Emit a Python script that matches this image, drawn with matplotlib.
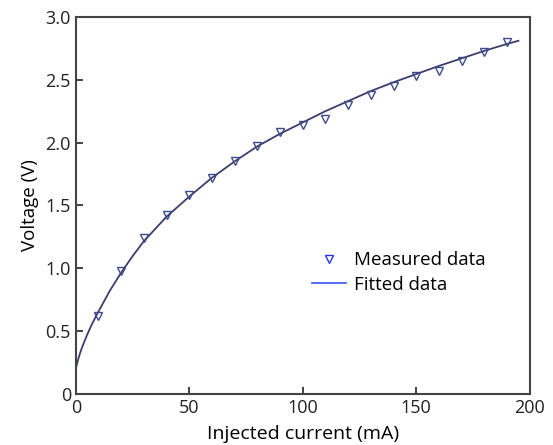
import matplotlib
matplotlib.use("Agg")
import matplotlib.pyplot as plt
from matplotlib.lines import Line2D

plt.rcParams['font.family'] = ['Open Sans', 'DejaVu Sans']

# measured points
current = [10, 20, 30, 40, 50, 60, 70, 80, 90, 100,
           110, 120, 130, 140, 150, 160, 170, 180, 190]
voltage = [0.62, 0.98, 1.24, 1.42, 1.58, 1.72, 1.85, 1.97, 2.08, 2.14,
           2.19, 2.30, 2.38, 2.45, 2.53, 2.57, 2.65, 2.72, 2.80]

# fitted curve
fit_current = [0, 1, 2, 3, 5, 7, 10, 15, 20, 25, 30, 40, 50, 60, 70, 80, 90, 100,
               110, 120, 130, 140, 150, 160, 170, 180, 190, 195]
fit_voltage = [0.20, 0.27, 0.33, 0.38, 0.47, 0.55, 0.655, 0.82, 0.965, 1.095, 1.215,
               1.41, 1.57, 1.72, 1.85, 1.97, 2.07, 2.16, 2.25, 2.33, 2.41, 2.48,
               2.545, 2.61, 2.67, 2.73, 2.785, 2.81]

fig = plt.figure(figsize=(5.53, 4.45), dpi=100)
ax = fig.add_axes([0.137, 0.115, 0.821, 0.847])

ax.plot(fit_current, fit_voltage, color='#3b3d6e', lw=1.3)
ax.plot(current, voltage, ls='none', marker='v', ms=6, mfc='none',
        mec='#3f4a8c', mew=1.0)

ax.set_xlim(0, 200)
ax.set_ylim(0, 3.0)
ax.set_xticks([0, 50, 100, 150, 200])
ax.set_yticks([0, 0.5, 1.0, 1.5, 2.0, 2.5, 3.0])
ax.set_yticklabels(['0', '0.5', '1.0', '1.5', '2.0', '2.5', '3.0'])
ax.tick_params(direction='in', length=5, width=1.2, labelsize=13, colors='#222222',
               top=False, right=False)
for s in ax.spines.values():
    s.set_linewidth(1.5)
    s.set_color('#444444')

ax.set_xlabel('Injected current (mA)', fontsize=14, labelpad=6)
ax.set_ylabel('Voltage (V)', fontsize=13.5, labelpad=5)

handles = [Line2D([], [], ls='none', marker='v', ms=6, mfc='none', mec='#2233ee', mew=1.0),
           Line2D([], [], color='#3355ee', lw=1.2)]
ax.legend(handles, ['Measured data', 'Fitted data'], loc='center left',
          bbox_to_anchor=(0.483, 0.322), frameon=False, fontsize=13.5,
          handlelength=1.8, handletextpad=0.45, labelspacing=0.35)

fig.savefig('out.png', dpi=100)
